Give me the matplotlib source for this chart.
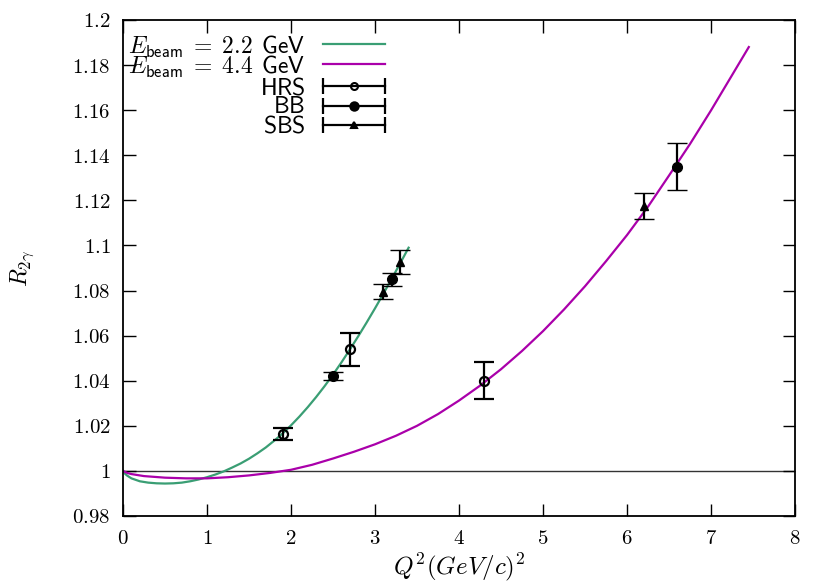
import matplotlib
matplotlib.use('Agg')
import matplotlib.pyplot as plt
from matplotlib.lines import Line2D
from matplotlib.legend_handler import HandlerBase

plt.rcParams['mathtext.fontset'] = 'cm'
plt.rcParams['font.family'] = ['DejaVu Serif']

# ---- theory curves ----
q2_22 = [0.0, 0.025, 0.05, 0.1, 0.2, 0.3, 0.4, 0.5, 0.6, 0.7, 0.8, 0.9, 1.0, 1.1, 1.2,
         1.3, 1.4, 1.5, 1.6, 1.7, 1.8, 1.9, 2.0, 2.1, 2.2, 2.3, 2.4, 2.5, 2.6, 2.7,
         2.8, 2.9, 3.0, 3.1, 3.2, 3.3, 3.4]
r_22 = [1.0000, 0.9987, 0.9979, 0.9967, 0.9954, 0.9948, 0.9945, 0.9944, 0.9945, 0.9948,
        0.9954, 0.9962, 0.9972, 0.9984, 0.9998, 1.0015, 1.0033, 1.0054, 1.0078, 1.0104,
        1.0134, 1.0166, 1.0202, 1.0241, 1.0283, 1.0328, 1.0376, 1.0427, 1.0481, 1.0538,
        1.0597, 1.0658, 1.0721, 1.0786, 1.0853, 1.0921, 1.0990]

q2_44 = [0.0, 0.05, 0.1, 0.25, 0.5, 0.75, 1.0, 1.25, 1.5, 1.75, 2.0, 2.25, 2.5, 2.75,
         3.0, 3.25, 3.5, 3.75, 4.0, 4.25, 4.5, 4.75, 5.0, 5.25, 5.5, 5.75, 6.0, 6.25,
         6.5, 6.75, 7.0, 7.25, 7.45]
r_44 = [1.0000, 0.9991, 0.9986, 0.9977, 0.9970, 0.9967, 0.9967, 0.9972, 0.9980, 0.9991,
        1.0005, 1.0027, 1.0055, 1.0085, 1.0118, 1.0156, 1.0200, 1.0252, 1.0312, 1.0378,
        1.0451, 1.0532, 1.0620, 1.0716, 1.0819, 1.0930, 1.1046, 1.1172, 1.1310, 1.1450,
        1.1599, 1.1755, 1.1880]

# ---- projected data points ----
hrs_q2 = [1.9, 2.7, 4.3]
hrs_r = [1.0163, 1.0540, 1.0400]
hrs_err = [0.0027, 0.0073, 0.0082]

bb_q2 = [2.5, 3.2, 6.6]
bb_r = [1.0421, 1.0850, 1.1350]
bb_err = [0.0018, 0.0030, 0.0103]

sbs_q2 = [3.1, 3.3, 6.2]
sbs_r = [1.0795, 1.0928, 1.1175]
sbs_err = [0.0033, 0.0054, 0.0057]

x_ticks = [0, 1, 2, 3, 4, 5, 6, 7, 8]
x_tick_labels = ['0', '1', '2', '3', '4', '5', '6', '7', '8']
y_ticks = [0.98, 1.00, 1.02, 1.04, 1.06, 1.08, 1.10, 1.12, 1.14, 1.16, 1.18, 1.20]
y_tick_labels = ['0.98', '1', '1.02', '1.04', '1.06', '1.08', '1.1', '1.12', '1.14',
                 '1.16', '1.18', '1.2']

labels = [r'$E_{\mathsf{beam}}\;=\;2.2\;\,\mathsf{GeV}$',
          r'$E_{\mathsf{beam}}\;=\;4.4\;\,\mathsf{GeV}$',
          r'$\mathsf{HRS}$', r'$\mathsf{BB}$', r'$\mathsf{SBS}$']

GREEN = '#3a9e74'
MAGENTA = '#aa00aa'

fig = plt.figure(figsize=(8.31, 5.88), dpi=100)
ax = fig.add_axes([123/831, 1 - 516/588, (795-123)/831, (516-20)/588])

ax.axhline(1.0, color='#333333', lw=1.0, zorder=1)
l1, = ax.plot(q2_22, r_22, color=GREEN, lw=1.6, zorder=2)
l2, = ax.plot(q2_44, r_44, color=MAGENTA, lw=1.6, zorder=2)

ekw = dict(ls='none', color='black', ecolor='black', elinewidth=1.6, capsize=7,
           capthick=1.6, zorder=4)
ax.errorbar(hrs_q2, hrs_r, yerr=hrs_err, marker='o', ms=6.5, mfc='none', mew=1.6, **ekw)
ax.errorbar(bb_q2, bb_r, yerr=bb_err, marker='o', ms=7, mfc='black', mew=1.0, **ekw)
ax.errorbar(sbs_q2, sbs_r, yerr=sbs_err, marker='^', ms=5.5, mfc='black', mew=1.0, **ekw)

ax.set_xlim(0, 8)
ax.set_ylim(0.98, 1.2)
ax.set_xticks(x_ticks)
ax.set_xticklabels(['$' + t + '$' for t in x_tick_labels])
ax.set_yticks(y_ticks)
ax.set_yticklabels(['$' + t + '$' for t in y_tick_labels])
ax.tick_params(direction='in', length=9, width=1.0, top=True, right=True,
               labelsize=15, pad=9)
for s in ax.spines.values():
    s.set_linewidth(1.3)

ax.set_xlabel(r'$Q^2 (GeV/c)^2$', fontsize=18, labelpad=3)
ax.set_ylabel(r'$R_{2\gamma}$', fontsize=17, labelpad=26)


class HBarHandler(HandlerBase):
    def __init__(self, marker, mfc, ms):
        super().__init__()
        self.marker = marker
        self.mfc = mfc
        self.ms = ms

    def create_artists(self, legend, orig_handle, xdescent, ydescent, width, height,
                       fontsize, trans):
        y = height / 2 - ydescent
        x0, x1 = -xdescent, width - xdescent
        bar = Line2D([x0, x1], [y, y], color='black', lw=1.6)
        caps = Line2D([x0, x1], [y, y], ls='none', marker='|', ms=12, mew=1.6,
                      color='black')
        mk = Line2D([(x0 + x1) / 2], [y], ls='none', marker=self.marker, ms=self.ms,
                    mfc=self.mfc, mec='black', mew=1.5)
        for a in (bar, caps, mk):
            a.set_transform(trans)
        return [bar, caps, mk]


h_hrs = Line2D([], [])
h_bb = Line2D([], [])
h_sbs = Line2D([], [])
leg = ax.legend([l1, l2, h_hrs, h_bb, h_sbs], labels,
                handler_map={h_hrs: HBarHandler('o', 'none', 5),
                             h_bb: HBarHandler('o', 'black', 6),
                             h_sbs: HBarHandler('^', 'black', 5)},
                loc='upper left', bbox_to_anchor=(0.008, 0.972), frameon=False,
                markerfirst=False, fontsize=17, handlelength=2.63, handletextpad=0.76,
                handleheight=1.2, labelspacing=-0.25, borderpad=0, borderaxespad=0)
for col in leg._legend_handle_box.get_children():
    col.align = 'right'

fig.savefig('out.png', dpi=100)
